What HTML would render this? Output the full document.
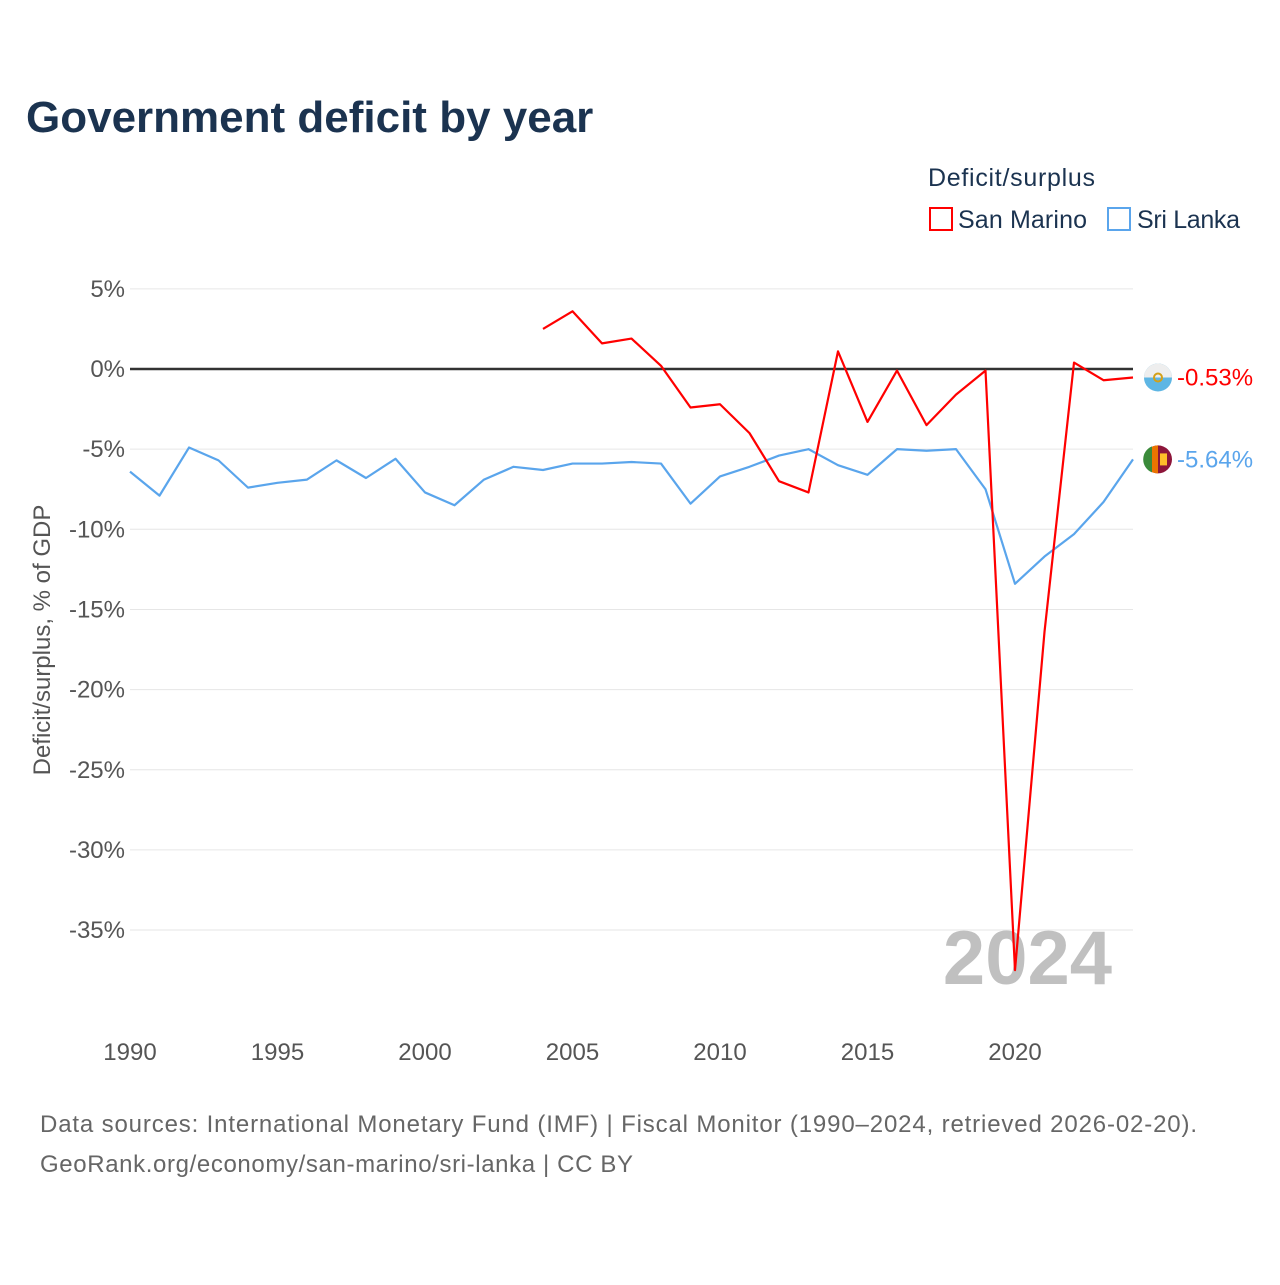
<!DOCTYPE html>
<html><head><meta charset="utf-8"><style>
body{margin:0;background:#fff;font-family:"Liberation Sans",sans-serif;}
</style></head><body>
<svg id="chart" width="1280" height="1280" xmlns="http://www.w3.org/2000/svg" font-family="Liberation Sans, sans-serif">
<rect width="1280" height="1280" fill="#fff"/>
<text x="26" y="132" font-size="44" font-weight="bold" fill="#1b3350">Government deficit by year</text>
<text x="928" y="186" font-size="25" fill="#1b3350" textLength="167">Deficit/surplus</text>
<g><rect x="930" y="208" width="22" height="22" fill="none" stroke="#f00" stroke-width="2"/><text x="958" y="228" font-size="25" fill="#1b3350" textLength="129">San Marino</text></g>
<g><rect x="1108" y="208" width="22" height="22" fill="none" stroke="#5aa5ec" stroke-width="2"/><text x="1137" y="228" font-size="25" fill="#1b3350" textLength="103">Sri Lanka</text></g>
<g id="grid"></g>
<g id="yticks"></g>
<g id="xticks"></g>
<text transform="translate(50,640) rotate(-90)" text-anchor="middle" font-size="24" fill="#555">Deficit/surplus, % of GDP</text>
<text x="1112" y="984" text-anchor="end" font-size="76" font-weight="bold" fill="#c0c0c0">2024</text>
<g id="series"></g>
<text x="40" y="1132" font-size="24" fill="#666" textLength="1157">Data sources: International Monetary Fund (IMF) | Fiscal Monitor (1990–2024, retrieved 2026-02-20).</text>
<text x="40" y="1172" font-size="24" fill="#666" textLength="593">GeoRank.org/economy/san-marino/sri-lanka | CC BY</text>
</svg>
<script>
const yearsSL = [1990,1991,1992,1993,1994,1995,1996,1997,1998,1999,2000,2001,2002,2003,2004,2005,2006,2007,2008,2009,2010,2011,2012,2013,2014,2015,2016,2017,2018,2019,2020,2021,2022,2023,2024];
const sriLanka = [-6.4,-7.9,-4.9,-5.7,-7.4,-7.1,-6.9,-5.7,-6.8,-5.6,-7.7,-8.5,-6.9,-6.1,-6.3,-5.9,-5.9,-5.8,-5.9,-8.4,-6.7,-6.1,-5.4,-5.0,-6.0,-6.6,-5.0,-5.1,-5.0,-7.5,-13.4,-11.7,-10.3,-8.3,-5.64];
const yearsSM = [2004,2005,2006,2007,2008,2009,2010,2011,2012,2013,2014,2015,2016,2017,2018,2019,2020,2021,2022,2023,2024];
const sanMarino = [2.5,3.6,1.6,1.9,0.2,-2.4,-2.2,-4.0,-7.0,-7.7,1.1,-3.3,-0.1,-3.5,-1.6,-0.1,-37.5,-16.4,0.4,-0.7,-0.53];
const yTicks = [5,0,-5,-10,-15,-20,-25,-30,-35];
const xTicks = [1990,1995,2000,2005,2010,2015,2020];
const NS="http://www.w3.org/2000/svg";
const x = y => 130 + (y-1990)*(1133-130)/34;
const yv = v => 369 - v*16.03;
function mk(t,a,p){const e=document.createElementNS(NS,t);for(const k in a)e.setAttribute(k,a[k]);p.appendChild(e);return e;}
const grid=document.getElementById('grid'), yt=document.getElementById('yticks'), xt=document.getElementById('xticks'), ser=document.getElementById('series');
yTicks.forEach(v=>{
  const l=mk('line',{x1:130,x2:1133,y1:yv(v),y2:yv(v),stroke:v===0?'#333':'#e6e6e6','stroke-width':v===0?2.5:1},grid);
  
  
  const t=mk('text',{x:125,y:yv(v)+8,'text-anchor':'end','font-size':24,fill:'#555'},yt);
  
  
  t.textContent=v+'%';
});
xTicks.forEach(v=>{
  const t=mk('text',{x:x(v),y:1060,'text-anchor':'middle','font-size':24,fill:'#555'},xt);
  
  
  t.textContent=v;
});
function line(ys,vals,color,name){
  const p=mk('polyline',{points:ys.map((y,i)=>x(y)+','+yv(vals[i])).join(' '),fill:'none',stroke:color,'stroke-width':2.2,'stroke-linejoin':'round'},ser);
  
  
}
line(yearsSL,sriLanka,'#5aa5ec','sri-lanka-line');
line(yearsSM,sanMarino,'#f00','san-marino-line');
function endLabel(ys,vals,color,name,flag){
  const lx=x(ys[ys.length-1]), v=vals[vals.length-1], ly=yv(v);
  const g=mk('g',{},ser);
  
  
  if(flag==='sm'){
    mk('circle',{cx:lx+25,cy:ly,r:14,fill:'#5eb6e4'},g);
    mk('path',{d:`M${lx+11} ${ly} A14 14 0 0 1 ${lx+39} ${ly} Z`,fill:'#eee'},g);
    mk('circle',{cx:lx+25,cy:ly,r:4,fill:'none',stroke:'#d4a017','stroke-width':2},g);
  } else {
    mk('circle',{cx:lx+25,cy:ly,r:14,fill:'#8d153a'},g);
    mk('path',{d:`M${lx+25} ${ly-14} A14 14 0 0 0 ${lx+25} ${ly+14} Z`,fill:'#eb7400'},g);
    mk('path',{d:`M${lx+19} ${ly-13} A14 14 0 0 0 ${lx+19} ${ly+13} Z`,fill:'#3a8a3a'},g);
    mk('rect',{x:lx+27,y:ly-6,width:7,height:12,fill:'#ffbe29'},g);
  }
  const t=mk('text',{x:lx+44,y:ly+8,'font-size':24,fill:color},g);
  t.textContent=v.toFixed(2)+'%';
}
endLabel(yearsSM,sanMarino,'#f00','san-marino-end-label','sm');
endLabel(yearsSL,sriLanka,'#5aa5ec','sri-lanka-end-label','sl');
</script>
</body></html>
